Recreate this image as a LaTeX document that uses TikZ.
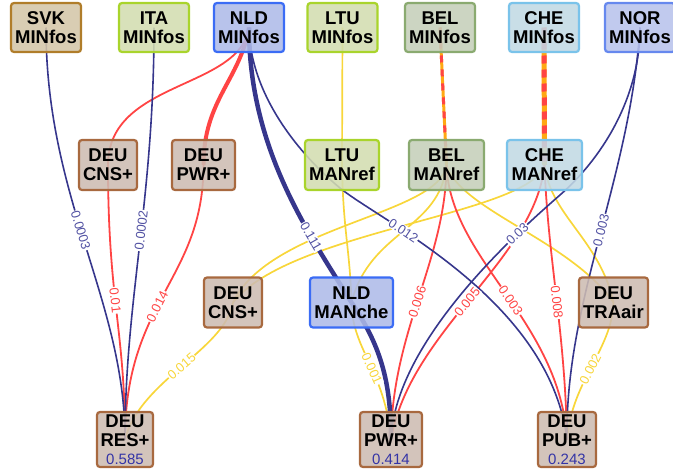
\documentclass[tikz,border=0pt]{standalone}
\usepackage{fontspec}
\setmainfont{Liberation Sans}
\pgfdeclarelayer{edgelayer}
\pgfdeclarelayer{labellayer}
\pgfsetlayers{edgelayer,labellayer,main}
\definecolor{navyE}{HTML}{36368C}
\definecolor{navyL}{HTML}{5252A3}
\definecolor{redE}{HTML}{FF4444}
\definecolor{yelE}{HTML}{F8D63A}
\definecolor{oraE}{HTML}{FFA812}
\definecolor{numC}{HTML}{3434A6}
\definecolor{svkF}{HTML}{D4C6A8}\definecolor{svkD}{HTML}{B07D2A}
\definecolor{grnF}{HTML}{D3DDB0}\definecolor{grnD}{HTML}{A9D42C}
\definecolor{nldF}{HTML}{AEBBE8}\definecolor{nldD}{HTML}{3B6CF5}
\definecolor{belF}{HTML}{C5CFBA}\definecolor{belD}{HTML}{8AAA70}
\definecolor{cheF}{HTML}{C2D9E4}\definecolor{cheD}{HTML}{7AC3EA}
\definecolor{norF}{HTML}{B8C3EC}\definecolor{norD}{HTML}{6688EE}
\definecolor{deuF}{HTML}{CDBCB2}\definecolor{deuD}{HTML}{A8693F}
\tikzset{
  box/.style={draw, rounded corners=3pt, line width=2.2pt, inner sep=0pt, align=center,
    font=\fontsize{18.5}{19}\selectfont\bfseries, fill opacity=0.88, text opacity=1},
  svkbox/.style={box, draw=svkD, fill=svkF},
  grnbox/.style={box, draw=grnD, fill=grnF},
  nldbox/.style={box, draw=nldD, fill=nldF},
  belbox/.style={box, draw=belD, fill=belF},
  chebox/.style={box, draw=cheD, fill=cheF},
  norbox/.style={box, draw=norD, fill=norF},
  deubox/.style={box, draw=deuD, fill=deuF},
  topsize/.style={minimum width=70, minimum height=49},
  lab/.style={sloped, fill=white, inner sep=0.8pt, font=\fontsize{13}{13}\selectfont},
  navyline/.style={draw=navyE, line width=1.6pt},
  thicknavy/.style={draw=navyE, line width=4.5pt},
  redline/.style={draw=redE, line width=1.8pt},
  thickred/.style={draw=redE, line width=4pt},
  yelline/.style={draw=yelE, line width=1.7pt},
}
\newcommand\EdA{(SVK.center) .. controls (46,200) and (125,300) .. (RES.center)}
\newcommand\EdB{(ITA.center) .. controls (154,200) and (125,300) .. (RES.center)}
\newcommand\EdC{(NLDm.center) .. controls (240,90) and (108,80) .. (CNSa.center)}
\newcommand\EdD{(CNSa.center) .. controls (108,300) and (125,330) .. (RES.center)}
\newcommand\EdE{(NLDm.center) .. controls (240,80) and (203.5,100) .. (PWRa.center)}
\newcommand\EdF{(PWRa.center) .. controls (203.5,280) and (125,300) .. (RES.center)}
\newcommand\EdG{(NLDm.center) .. controls (249,150) and (310,235) .. (MAN.center)}
\newcommand\EdH{(MAN.center) .. controls (380,345) and (391,380) .. (PWRb.center)}
\newcommand\EdI{(NLDm.center) .. controls (250,95) and (300,155) .. (kA) .. controls (380,221) and (550,300) .. (PUB.center)}
\newcommand\EdJ{(LTUm.center) -- (LTUr.center)}
\newcommand\EdK{(LTUr.center) .. controls (343,230) and (350,250) .. (MAN.center)}
\newcommand\EdL{(MAN.center) .. controls (352,350) and (385,370) .. (PWRb.center)}
\newcommand\EdM{(BELm.center) -- (BELr.center)}
\newcommand\EdN{(CHEm.center) -- (CHEr.center)}
\newcommand\EdO{(BELr.center) .. controls (440,215) and (270,225) .. (CNSb.center)}
\newcommand\EdP{(CHEr.center) .. controls (530,215) and (290,230) .. (CNSb.center)}
\newcommand\EdQ{(BELr.center) .. controls (440,230) and (370,230) .. (MAN.center)}
\newcommand\EdR{(BELr.center) .. controls (460,210) and (570,240) .. (TRA.center)}
\newcommand\EdS{(CHEr.center) .. controls (550,215) and (600,240) .. (TRA.center)}
\newcommand\EdT{(BELr.center) .. controls (446,260) and (392,330) .. (PWRb.center)}
\newcommand\EdU{(BELr.center) .. controls (450,260) and (560,320) .. (PUB.center)}
\newcommand\EdV{(CHEr.center) .. controls (535,260) and (410,330) .. (PWRb.center)}
\newcommand\EdW{(CHEr.center) .. controls (548,260) and (565,330) .. (PUB.center)}
\newcommand\EdX{(NORm.center) .. controls (640,100) and (600,160) .. (kB) .. controls (520,230) and (395,340) .. (PWRb.center)}
\newcommand\EdY{(NORm.center) .. controls (630,180) and (565,300) .. (PUB.center)}
\newcommand\EdZ{(TRA.center) .. controls (612,350) and (572,380) .. (PUB.center)}
\newcommand\EdAA{(CNSb.center) .. controls (225,350) and (140,380) .. (RES.center)}
\begin{document}
\begin{tikzpicture}[x=1pt, y=-1pt]
\useasboundingbox (0,0) rectangle (673,474);
% nodes
\node[svkbox, topsize] (SVK) at (46,27.5) {SVK\\MINfos};
\node[grnbox, topsize] (ITA) at (154,27.5) {ITA\\MINfos};
\node[nldbox, topsize] (NLDm) at (249,27.5) {NLD\\MINfos};
\node[grnbox, topsize] (LTUm) at (342.5,27.5) {LTU\\MINfos};
\node[belbox, topsize] (BELm) at (440,27.5) {BEL\\MINfos};
\node[chebox, topsize] (CHEm) at (544,27.5) {CHE\\MINfos};
\node[norbox, topsize] (NORm) at (640,27.5) {NOR\\MINfos};
\node[deubox, minimum width=58, minimum height=50] (CNSa) at (108,165) {DEU\\CNS+};
\node[deubox, minimum width=63, minimum height=50] (PWRa) at (203.5,165) {DEU\\PWR+};
\node[grnbox, minimum width=74, minimum height=50] (LTUr) at (342,165) {LTU\\MANref};
\node[belbox, minimum width=75, minimum height=50] (BELr) at (446.5,165) {BEL\\MANref};
\node[chebox, minimum width=75, minimum height=50] (CHEr) at (544.5,165) {CHE\\MANref};
\node[deubox, minimum width=58, minimum height=50] (CNSb) at (233,302.5) {DEU\\CNS+};
\node[nldbox, minimum width=83, minimum height=50] (MAN) at (351.5,302.5) {NLD\\MANche};
\node[deubox, minimum width=69, minimum height=50] (TRA) at (613.5,302.5) {DEU\\TRAair};
\node[deubox, minimum width=56, minimum height=55] (RES) at (125,439.5) {DEU\\RES+\\[-1pt]{\fontsize{15}{15}\selectfont\mdseries\color{numC}0.585}};
\node[deubox, minimum width=62, minimum height=55] (PWRb) at (391,439.5) {DEU\\PWR+\\[-1pt]{\fontsize{15}{15}\selectfont\mdseries\color{numC}0.414}};
\node[deubox, minimum width=58, minimum height=55] (PUB) at (567,439.5) {DEU\\PUB+\\[-1pt]{\fontsize{15}{15}\selectfont\mdseries\color{numC}0.243}};
\coordinate (kA) at (340,188);
\coordinate (kB) at (560,195);
% edges
\begin{pgfonlayer}{edgelayer}
\path[yelline] \EdJ;
\path[yelline] \EdK;
\path[yelline] \EdL;
\path[yelline] \EdO;
\path[yelline] \EdP;
\path[yelline] \EdQ;
\path[yelline] \EdR;
\path[yelline] \EdS;
\path[yelline] \EdZ;
\path[yelline] \EdAA;
\path[redline] \EdC;
\path[redline] \EdD;
\path[thickred] \EdE;
\path[redline] \EdF;
\path[redline] \EdT;
\path[redline] \EdU;
\path[redline] \EdV;
\path[redline] \EdW;
\path[navyline] \EdA;
\path[navyline] \EdB;
\path[thicknavy] \EdG;
\path[thicknavy] \EdH;
\path[navyline] \EdI;
\path[navyline] \EdX;
\path[navyline] \EdY;
\path[draw=oraE, line width=3pt] \EdM;
\path[draw=redE, line width=3pt, dash pattern=on 7pt off 7pt] \EdM;
\path[draw=oraE, line width=5pt] \EdN;
\path[draw=redE, line width=5pt, dash pattern=on 8pt off 6pt] \EdN;
\end{pgfonlayer}
% labels
\begin{pgfonlayer}{labellayer}
\path \EdA node[lab, text=navyL, pos=0.46] {0.0003};
\path \EdB node[lab, text=navyL, pos=0.46] {0.0002};
\path \EdD node[lab, text=redE, pos=0.45] {0.01};
\path \EdF node[lab, text=redE, pos=0.56] {0.014};
\path \EdG node[lab, text=navyL, pos=0.7] {0.111};
\path \EdI node[lab, text=navyL, pos=0.3] {0.012};
\path \EdL node[lab, text=yelE, pos=0.55] {0.001};
\path \EdT node[lab, text=redE, pos=0.52] {0.006};
\path \EdU node[lab, text=redE, pos=0.53] {0.003};
\path \EdV node[lab, text=redE, pos=0.52] {0.005};
\path \EdW node[lab, text=redE, pos=0.52] {0.008};
\path \EdX node[lab, text=navyL, pos=0.25] {0.03};
\path \EdY node[lab, text=navyL, pos=0.48] {0.003};
\path \EdZ node[lab, text=yelE, pos=0.52] {0.002};
\path \EdAA node[lab, text=yelE, pos=0.5] {0.015};
\end{pgfonlayer}
\end{tikzpicture}
\end{document}
